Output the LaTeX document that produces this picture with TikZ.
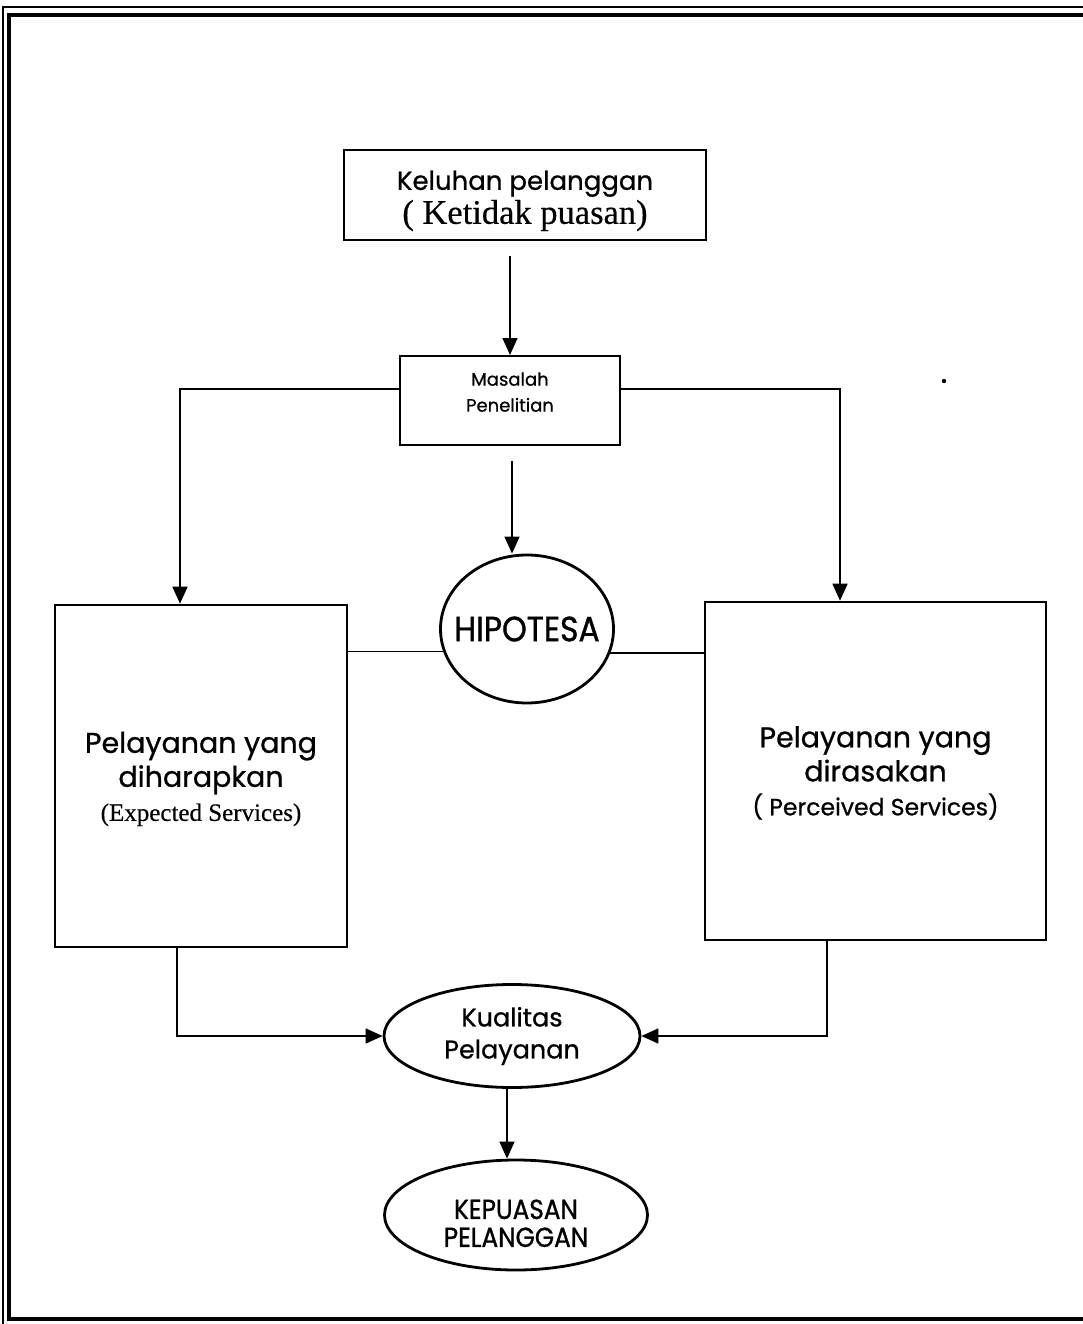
\documentclass[tikz,border=0pt]{standalone}
\usepackage{fontspec}
\setmainfont{Liberation Serif}[FakeBold=0.4]
\newfontfamily\gothic{Poppins}[FakeBold=0.8]
\newfontfamily\narrowcaps{Poppins}[FakeStretch=0.9,FakeBold=1]
\usetikzlibrary{arrows.meta,shapes.geometric,calc}

% type sizes used in the chart
\newcommand\fkel{\gothic\fontsize{26}{30}\selectfont}
\newcommand\fkelsub{\rmfamily\fontsize{34.5}{33}\selectfont}
\newcommand\fmas{\gothic\fontsize{18}{25}\selectfont}
\newcommand\fsvc{\gothic\fontsize{28.5}{35}\selectfont}
\newcommand\fexp{\rmfamily\fontsize{25}{30}\selectfont}
\newcommand\fper{\gothic\fontsize{23.5}{30}\selectfont}
\newcommand\fhip{\narrowcaps\fontsize{35}{40}\selectfont}
\newcommand\fkual{\gothic\fontsize{25.5}{33}\selectfont}
\newcommand\fkep{\narrowcaps\fontsize{27.5}{29}\selectfont}
% line pitch of a node
\newcommand\pitch[1]{\fontsize{10}{#1}\selectfont}
% invisible struts to nudge a text block down (\lift) or up (\sink)
\newcommand\lift[1]{\rule{0pt}{#1}}
\newcommand\sink[1]{\rule[-#1]{0pt}{0pt}}

\tikzset{
  box/.style={draw, line width=2.6pt, rectangle, inner sep=0pt, align=center},
  oval/.style={draw, line width=2.8pt, ellipse, inner sep=0pt, align=center},
  link/.style={line width=1.6pt},
  arr/.style={link, -{Triangle[length=17pt,width=15pt]}},
}

\begin{document}
\begin{tikzpicture}[x=1pt,y=-1pt]
  \useasboundingbox (0,0) rectangle (1082,1324);

  % page frame: thin outer rule and heavy inner rule
  \draw[line width=1.6pt] (1090,7) -- (3,7) -- (3,1330);
  \draw[line width=4.5pt] (1090,15) -- (9,15) -- (9,1319) -- (1090,1319);

  % boxes
  \node[box, font=\pitch{34}, minimum width=362pt, minimum height=90pt] (kel) at (525,195)
    {{\lift{31pt}\fkel Keluhan pelanggan}\\{\fkelsub ( Ketidak puasan)}};
  \node[box, font=\pitch{26}, line width=2pt, minimum width=220pt, minimum height=89pt] (mas) at (510,400.5)
    {{\fmas Masalah}\\{\fmas Penelitian\sink{17pt}}};
  \node[box, font=\pitch{34}, minimum width=292pt, minimum height=342pt] (lbox) at (201,776)
    {{\lift{27pt}\fsvc Pelayanan yang}\\{\fsvc diharapkan}\\{\fexp (Expected Services)}};
  \node[box, font=\pitch{34}, minimum width=341pt, minimum height=338pt] (rbox) at (875.5,771)
    {{\lift{25pt}\fsvc Pelayanan yang}\\{\fsvc dirasakan}\\{\fper ( Perceived Services)}};

  % ellipses
  \node[oval, minimum width=173pt, minimum height=148pt] (hip) at (527,629)
    {\makebox[0pt]{\fhip HIPOTESA}};
  \node[oval, font=\pitch{32}, minimum width=256pt, minimum height=103pt] (kual) at (512,1036)
    {{\fkual Kualitas}\\{\fkual Pelayanan}};
  \node[oval, font=\pitch{28}, minimum width=263pt, minimum height=110pt] (kep) at (516,1215)
    {{\lift{36pt}\fkep KEPUASAN}\\{\fkep PELANGGAN}};

  % connectors
  \draw[arr] ([yshift=-15pt]kel.south -| mas.north) -- (mas.north);
  \draw[arr] ([yshift=11.5pt]mas.west) -| ([xshift=-21pt]lbox.north);
  \draw[arr] ([yshift=11.5pt]mas.east) -| ([xshift=-35.5pt]rbox.north);
  \draw[arr] ([yshift=-15pt,xshift=2pt]mas.south) -- ([xshift=2pt]mas.south |- hip.north);
  \draw[link] (hip.195.5) -- (hip.195.5 -| lbox.east);
  \draw[link] (hip.344.5) -- (hip.344.5 -| rbox.west);
  \draw[arr] ([xshift=-24pt]lbox.south) |- (kual.west);
  \draw[arr] ([xshift=-48.5pt]rbox.south) |- (kual.east);
  \draw[arr] ([xshift=-5pt]kual.south) -- ([xshift=-5pt]kual.south |- kep.north);

  % stray mark
  \fill (944,381) circle (2.2pt);
\end{tikzpicture}
\end{document}
